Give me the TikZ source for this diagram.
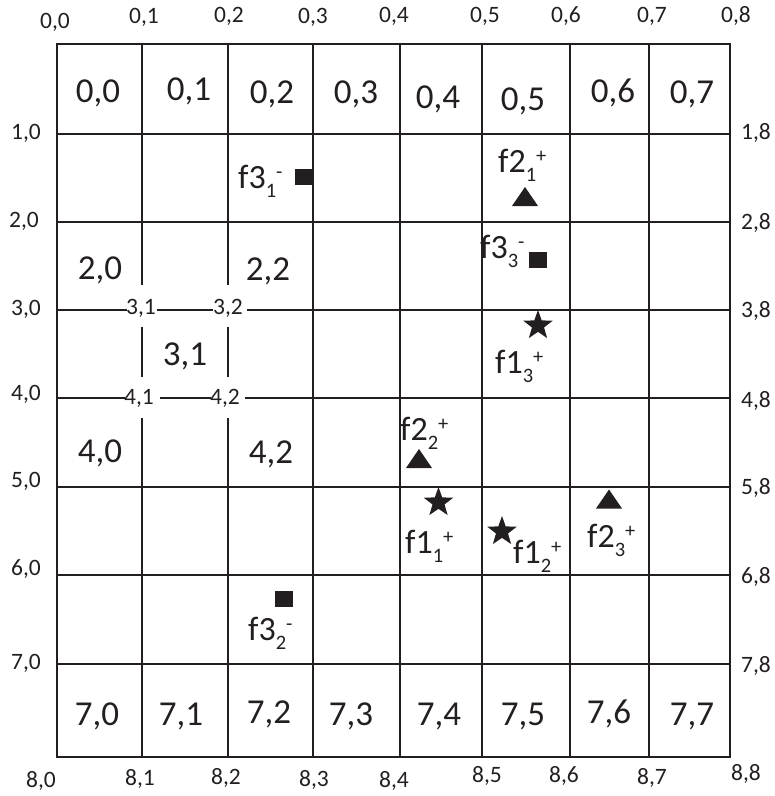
\documentclass[tikz,border=0pt]{standalone}
\usepackage{fontspec}
\setmainfont{Carlito}
\usetikzlibrary{shapes.geometric}
\definecolor{ink}{HTML}{231F20}
\newcommand{\flab}[3]{f#1\raisebox{-9pt}{\fontsize{20.5}{20.5}\selectfont #2}\raisebox{10pt}{\fontsize{20.5}{20.5}\selectfont #3}}
\begin{document}
\begin{tikzpicture}[x=1pt,y=-1pt,
  axislab/.style={font=\fontsize{23.5}{23.5}\selectfont, text=ink, inner sep=0pt, anchor=base},
  celllab/.style={font=\fontsize{35}{35}\selectfont, text=ink, inner sep=0pt, anchor=base},
  flabel/.style={font=\fontsize{34}{34}\selectfont, text=ink, inner sep=0pt, anchor=base west},
  sqmark/.style={rectangle, fill=ink, minimum width=18pt, minimum height=16pt, inner sep=0pt},
  starmark/.style={star, star points=5, star point ratio=2.45, fill=ink, minimum size=31pt, inner sep=0pt},
  trimark/.pic={\fill[ink] (-13,9.5) -- (13,9.5) -- (0,-9.5) -- cycle;},
  gridline/.style={line width=1.3pt, draw=ink},
  midline/.style={line width=1.8pt, draw=ink},
  frame/.style={line width=2.3pt, draw=ink}]
\useasboundingbox (0,0) rectangle (775,796);
% grid
\foreach \y in {134,222,487,575,664} \draw[gridline] (57,\y) -- (730,\y);
\draw[gridline] (57,310) -- (127,310) (157,310) -- (213,310) (247,310) -- (730,310);
\draw[midline] (57,398) -- (125,398) (160,398) -- (211,398) (245,398) -- (730,398);
\foreach \x in {313,400,482,570,649} \draw[gridline] (\x,44) -- (\x,757);
\foreach \x in {142,228} \draw[gridline] (\x,44) -- (\x,285) (\x,327) -- (\x,377) (\x,418) -- (\x,757);
\draw[frame] (57,44) rectangle (730,757);
% top axis
\node[axislab] (t0) at (55,28) {0,0};
\node[axislab] (t1) at (144,23) {0,1};
\node[axislab] (t2) at (229,22) {0,2};
\node[axislab] (t3) at (313,23) {0,3};
\node[axislab] (t4) at (394,22) {0,4};
\node[axislab] (t5) at (485,22) {0,5};
\node[axislab] (t6) at (566,22) {0,6};
\node[axislab] (t7) at (652,22) {0,7};
\node[axislab] (t8) at (736,22) {0,8};
% left axis
\node[axislab] (l1) at (26,139) {1,0};
\node[axislab] (l2) at (24,227) {2,0};
\node[axislab] (l3) at (26,315) {3,0};
\node[axislab] (l4) at (26,400) {4,0};
\node[axislab] (l5) at (26,487) {5,0};
\node[axislab] (l6) at (26,575) {6,0};
\node[axislab] (l7) at (26,669) {7,0};
% right axis
\node[axislab] (r1) at (756,139) {1,8};
\node[axislab] (r2) at (756,229) {2,8};
\node[axislab] (r3) at (756,317) {3,8};
\node[axislab] (r4) at (756,407) {4,8};
\node[axislab] (r5) at (756,494) {5,8};
\node[axislab] (r6) at (756,583) {6,8};
\node[axislab] (r7) at (756,672) {7,8};
% bottom axis
\node[axislab] (b0) at (41,787) {8,0};
\node[axislab] (b1) at (140,785) {8,1};
\node[axislab] (b2) at (226,784) {8,2};
\node[axislab] (b3) at (314,786) {8,3};
\node[axislab] (b4) at (394,787) {8,4};
\node[axislab] (b5) at (487,782) {8,5};
\node[axislab] (b6) at (564,782) {8,6};
\node[axislab] (b7) at (652,784) {8,7};
\node[axislab] (b8) at (746,780) {8,8};
% small labels on lines
\node[axislab] (m31) at (141,314) {3,1};
\node[axislab] (m32) at (228,314) {3,2};
\node[axislab] (m41) at (139,404) {4,1};
\node[axislab] (m42) at (225,404) {4,2};
% cell labels
\node[celllab] (c00) at (98,102) {0,0};
\node[celllab] (c01) at (189,100) {0,1};
\node[celllab] (c02) at (272,103) {0,2};
\node[celllab] (c03) at (356,103) {0,3};
\node[celllab] (c04) at (438,108) {0,4};
\node[celllab] (c05) at (523,110) {0,5};
\node[celllab] (c06) at (613,102) {0,6};
\node[celllab] (c07) at (692,103) {0,7};
\node[celllab] (c20) at (100,279) {2,0};
\node[celllab] (c22) at (268,280) {2,2};
\node[celllab] (c31) at (185,365) {3,1};
\node[celllab] (c40) at (100,462) {4,0};
\node[celllab] (c42) at (271,463) {4,2};
\node[celllab] (c70) at (97,725) {7,0};
\node[celllab] (c71) at (181,725) {7,1};
\node[celllab] (c72) at (269,723) {7,2};
\node[celllab] (c73) at (351,725) {7,3};
\node[celllab] (c74) at (439,725) {7,4};
\node[celllab] (c75) at (523,725) {7,5};
\node[celllab] (c76) at (609,723) {7,6};
\node[celllab] (c77) at (692,725) {7,7};
% markers
\node[sqmark] (sq1) at (304,177) {};
\node[sqmark] (sq3) at (538,260) {};
\node[sqmark] (sq2) at (284,599) {};
\node[starmark] (st3) at (538,325.5) {};
\node[starmark] (st1) at (438.5,502.5) {};
\node[starmark] (st2) at (502,531.5) {};
\pic at (525,196.5) {trimark};
\pic at (419,458.5) {trimark};
\pic at (609,499) {trimark};
% feature labels
\node[flabel] (f31) at (238,188) {\flab{3}{1}{-}};
\node[flabel] (f21) at (498,172) {\flab{2}{1}{+}};
\node[flabel] (f33) at (480,258) {\flab{3}{3}{-}};
\node[flabel] (f13) at (495,373) {\flab{1}{3}{+}};
\node[flabel] (f22) at (400,440) {\flab{2}{2}{+}};
\node[flabel] (f11) at (405,553) {\flab{1}{1}{+}};
\node[flabel] (f12) at (513,563) {\flab{1}{2}{+}};
\node[flabel] (f23) at (587,547) {\flab{2}{3}{+}};
\node[flabel] (f32) at (248,640) {\flab{3}{2}{-}};
\end{tikzpicture}
\end{document}
